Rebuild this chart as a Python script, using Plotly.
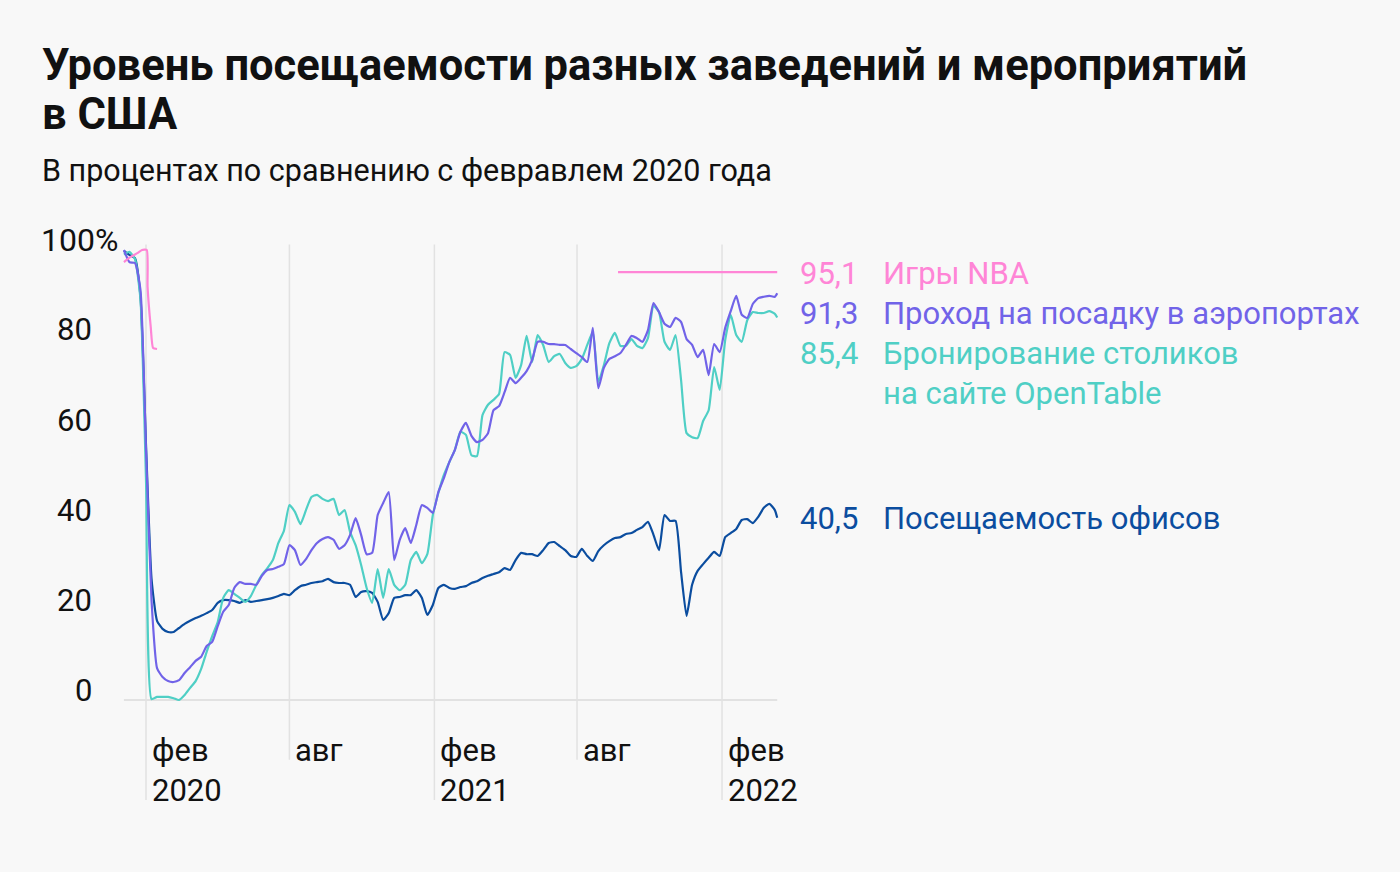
import pandas as pd
import plotly.graph_objects as go

# ---------------- data ----------------
# weekly observation dates (plus the final reading)
dates = pd.date_range("2020-01-04", periods=119, freq="7D").strftime("%Y-%m-%d").tolist() + ["2022-04-12"]

office = [
    99.8, 98.9, 98.2, 89.6, 56.7, 27.0, 17.6, 15.8, 15.1, 15.1,
    16.0, 16.9, 17.6, 18.2, 18.7, 19.3, 20.0, 21.6, 22.2, 22.2,
    22.0, 21.6, 22.2, 21.8, 22.0, 22.2, 22.4, 22.7, 23.1, 23.6,
    23.3, 24.4, 25.3, 25.6, 26.0, 26.2, 26.4, 26.9, 26.2, 26.0,
    26.0, 25.6, 22.9, 24.0, 24.2, 23.8, 21.8, 17.8, 19.3, 22.7,
    22.9, 23.3, 23.3, 24.4, 22.7, 18.9, 21.1, 24.9, 25.6, 24.9,
    24.7, 25.1, 25.3, 26.0, 26.4, 27.1, 27.6, 28.0, 28.4, 29.3,
    28.9, 31.1, 32.7, 32.4, 32.4, 32.0, 33.3, 34.9, 35.1, 34.2,
    33.3, 32.0, 31.8, 33.6, 32.0, 30.9, 33.1, 34.4, 35.3, 36.0,
    36.2, 36.9, 37.1, 37.8, 38.4, 39.6, 36.7, 33.3, 41.1, 39.8,
    39.8, 28.4, 18.7, 25.6, 28.7, 30.2, 31.6, 32.9, 32.0, 36.2,
    37.1, 38.0, 40.0, 40.2, 39.3, 40.7, 42.7, 43.6, 42.2, 40.5,
]

airports = [
    100.0, 97.3, 97.1, 91.1, 55.6, 22.2, 7.1, 5.1, 4.2, 4.0,
    4.4, 6.0, 7.3, 8.7, 9.6, 12.0, 12.9, 16.4, 19.6, 21.1,
    24.9, 26.2, 25.8, 25.8, 25.6, 27.6, 28.9, 29.1, 29.6, 30.2,
    34.4, 33.3, 30.0, 31.3, 33.3, 34.9, 35.8, 36.2, 35.6, 33.6,
    34.4, 36.7, 40.4, 36.7, 32.4, 32.7, 41.1, 43.8, 46.2, 31.1,
    35.6, 38.2, 34.9, 38.9, 43.3, 42.7, 41.6, 46.2, 49.3, 52.9,
    55.6, 59.6, 61.6, 58.7, 57.3, 57.8, 59.3, 64.4, 65.3, 68.4,
    71.6, 70.4, 71.6, 73.1, 75.6, 79.6, 79.6, 79.1, 79.1, 78.9,
    78.9, 78.0, 77.1, 76.2, 75.1, 82.7, 69.3, 73.8, 75.8, 76.4,
    77.1, 78.9, 80.9, 80.4, 79.6, 82.2, 88.2, 86.2, 83.6, 82.9,
    84.9, 84.0, 80.2, 78.9, 76.2, 77.8, 72.2, 79.1, 77.3, 82.7,
    86.4, 89.8, 85.6, 84.9, 88.0, 89.3, 89.6, 89.8, 89.6, 90.4,
]

opentable = [
    99.0, 99.6, 98.0, 89.0, 48.9, 0.2, 0.7, 0.7, 0.7, 0.4,
    0.0, 1.1, 2.7, 4.2, 6.9, 10.7, 14.2, 17.3, 22.7, 24.4,
    23.6, 22.7, 21.8, 23.1, 25.6, 27.8, 29.3, 31.1, 34.9, 37.6,
    43.3, 41.8, 39.1, 42.2, 45.1, 45.6, 44.7, 44.2, 44.7, 41.1,
    42.2, 37.3, 34.4, 30.0, 24.9, 21.6, 29.1, 22.7, 29.1, 25.6,
    24.4, 25.6, 31.1, 32.9, 30.4, 32.4, 41.1, 46.0, 50.0, 52.9,
    55.6, 59.6, 58.9, 54.4, 54.2, 63.3, 65.6, 66.7, 68.0, 77.3,
    76.7, 71.6, 74.4, 80.9, 75.1, 81.1, 78.9, 75.1, 76.4, 76.9,
    74.9, 73.8, 74.2, 75.8, 78.9, 81.8, 70.7, 74.4, 79.3, 81.6,
    78.7, 78.7, 80.2, 78.7, 78.2, 80.4, 87.6, 86.2, 79.6, 77.8,
    81.1, 71.1, 59.3, 58.4, 58.2, 62.0, 64.4, 74.0, 68.9, 80.0,
    85.6, 81.1, 79.6, 84.4, 86.2, 86.0, 86.0, 86.4, 85.8, 85.0,
]

nba_dates = ["2020-01-04", "2020-01-12", "2020-01-21", "2020-01-27", "2020-02-02",
             "2020-02-03", "2020-02-07", "2020-02-10", "2020-02-15",
             None,
             "2021-09-22", "2022-04-12"]
nba = [97.3, 98.4, 99.3, 100.0, 100.0, 91.8, 82.9, 78.2, 78.0, None, 95.1, 95.1]

label_values = ["95,1", "91,3", "85,4", "40,5"]
label_names = ["Игры NBA", "Проход на посадку в аэропортах",
               "Бронирование столиков<br>на сайте OpenTable", "Посещаемость офисов"]

y_ticks = [0, 20, 40, 60, 80, 100]
y_tick_text = ["0", "20", "40", "60", "80", "100%"]

x_grid_dates = ["2020-02-01", "2020-08-01", "2021-02-01", "2021-08-01", "2022-02-01"]
x_grid_month = ["фев", "авг", "фев", "авг", "фев"]
x_grid_year = ["2020", "", "2021", "", "2022"]

title_lines = ["Уровень посещаемости разных заведений и мероприятий", "в США"]
subtitle = "В процентах по сравнению с февравлем 2020 года"

# ---------------- style ----------------
BG = "#f8f8f8"
C_NBA = "#ff85d6"
C_AIR = "#7163e8"
C_OT = "#4fcfc5"
C_OFF = "#0b4d9f"
GRID = "#e2e2e2"
FONT = "Roboto"
FS = 31
W, H = 1400, 872
L, R, T, B = 120, 618, 240, 72


def px_x(px):
    return (px - L) / (W - L - R)


def px_y(py):
    return (H - B - py) / (H - T - B)


fig = go.Figure()

# gridlines
for d, yr in zip(x_grid_dates, x_grid_year):
    fig.add_shape(type="line", xref="x", yref="y", x0=d, x1=d,
                  y0=-22.2 if yr else -13.3, y1=101.2,
                  line=dict(color=GRID, width=1.5), layer="below")
fig.add_shape(type="line", xref="x", yref="y", x0=dates[0], x1=dates[-1], y0=0, y1=0,
              line=dict(color=GRID, width=2), layer="below")

for name, xs, ys, col in [
    ("Посещаемость офисов", dates, office, C_OFF),
    ("Бронирование столиков", dates, opentable, C_OT),
    ("Проход на посадку", dates, airports, C_AIR),
    ("Игры NBA", nba_dates, nba, C_NBA),
]:
    fig.add_trace(go.Scatter(x=xs, y=ys, mode="lines", name=name,
                             line=dict(color=col, width=2.2, shape="spline", smoothing=0.5),
                             connectgaps=False, hoverinfo="x+y"))

ann = []
# y tick labels
for v, t in zip(y_ticks, y_tick_text):
    if t.endswith("%"):
        ann.append(dict(xref="paper", yref="y", x=px_x(39), y=v, yshift=10, text=t,
                        xanchor="left", yanchor="middle", showarrow=False,
                        font=dict(size=32, color="#111", family=FONT)))
    else:
        ann.append(dict(xref="paper", yref="y", x=px_x(94), y=v, yshift=10, text=t,
                        xanchor="right", yanchor="middle", showarrow=False,
                        font=dict(size=FS, color="#111", family=FONT)))
# x labels
for d, m, yr in zip(x_grid_dates, x_grid_month, x_grid_year):
    ann.append(dict(xref="x", yref="paper", x=d, y=px_y(750), xshift=4, text=m,
                    xanchor="left", yanchor="middle", showarrow=False,
                    font=dict(size=FS, color="#111", family=FONT)))
    if yr:
        ann.append(dict(xref="x", yref="paper", x=d, y=px_y(790), xshift=4, text=yr,
                        xanchor="left", yanchor="middle", showarrow=False,
                        font=dict(size=FS, color="#111", family=FONT)))
# right labels
label_colors = [C_NBA, C_AIR, C_OT, C_OFF]
label_y = [273, 313, 353, 518]
for val, nm, col, py in zip(label_values, label_names, label_colors, label_y):
    ann.append(dict(xref="paper", yref="paper", x=px_x(798), y=px_y(py), text=val,
                    xanchor="left", yanchor="middle", showarrow=False,
                    font=dict(size=FS, color=col, family=FONT)))
    ann.append(dict(xref="paper", yref="paper", x=px_x(881), y=px_y(py), text=nm,
                    xanchor="left", yanchor="top", yshift=20, showarrow=False, align="left",
                    font=dict(size=FS, color=col, family=FONT)))
# title and subtitle
ann.append(dict(xref="paper", yref="paper", x=px_x(40), y=px_y(65), text="<b>" + title_lines[0] + "</b>",
                xanchor="left", yanchor="middle", showarrow=False,
                font=dict(size=43.5, color="#111", family=FONT)))
ann.append(dict(xref="paper", yref="paper", x=px_x(40), y=px_y(115), text="<b>" + title_lines[1] + "</b>",
                xanchor="left", yanchor="middle", showarrow=False,
                font=dict(size=43.5, color="#111", family=FONT)))
ann.append(dict(xref="paper", yref="paper", x=px_x(40), y=px_y(170), text=subtitle,
                xanchor="left", yanchor="middle", showarrow=False,
                font=dict(size=30.5, color="#111", family=FONT)))

fig.update_layout(
    width=W, height=H,
    margin=dict(l=L, r=R, t=T, b=B),
    paper_bgcolor=BG, plot_bgcolor=BG,
    showlegend=False,
    annotations=ann,
    font=dict(family=FONT),
)
fig.update_xaxes(range=["2019-12-30 00:15", "2022-04-18 02:00"], visible=False)
fig.update_yaxes(range=[-22.22, 102.22], visible=False)

fig.write_html("out.html", config={"displayModeBar": False},
               post_script="document.body.style.margin='0';")
